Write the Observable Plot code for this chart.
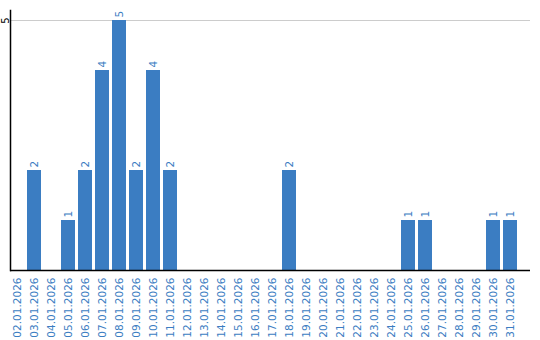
<!DOCTYPE html>
<html>
<head>
<meta charset="utf-8">
<script src="https://cdn.jsdelivr.net/npm/d3@7"></script>
<script src="https://cdn.jsdelivr.net/npm/@observablehq/plot@0.6"></script>
<style>
  body { margin: 0; background: #fff; }
  svg { display: block; }
</style>
</head>
<body>
<div id="chart"></div>
<script>
const dates = ["02.01.2026","03.01.2026","04.01.2026","05.01.2026","06.01.2026","07.01.2026","08.01.2026","09.01.2026","10.01.2026","11.01.2026","12.01.2026","13.01.2026","14.01.2026","15.01.2026","16.01.2026","17.01.2026","18.01.2026","19.01.2026","20.01.2026","21.01.2026","22.01.2026","23.01.2026","24.01.2026","25.01.2026","26.01.2026","27.01.2026","28.01.2026","29.01.2026","30.01.2026","31.01.2026"];
const counts = [0,2,0,1,2,4,5,2,4,2,0,0,0,0,0,0,2,0,0,0,0,0,0,1,1,0,0,0,1,1];
const yTicks = [5];

const data = dates.map((d, i) => ({date: d, count: counts[i]}));
const nonZero = data.filter(d => d.count > 0);
const blue = "#3b7dc2";
const font = "DejaVu Sans, Verdana, sans-serif";

const chart = Plot.plot({
  width: 540,
  height: 340,
  marginLeft: 10,
  marginRight: 10,
  marginTop: 10,
  marginBottom: 70,
  style: {fontFamily: font, fontSize: "10.5px", background: "#fff"},
  x: {domain: dates, range: [10, 517], paddingInner: 3/17, paddingOuter: 0, label: null},
  y: {domain: [0, 5.2], label: null},
  marks: [
    Plot.ruleY(yTicks, {stroke: "#cccccc", strokeWidth: 1}),
    Plot.barY(data, {x: "date", y: "count", fill: blue}),
    Plot.text(nonZero, {x: "date", y: "count", text: d => String(d.count), rotate: -90, textAnchor: "start", lineAnchor: "middle", dy: -3, fill: blue, fontSize: 10.5}),
    Plot.axisX({tickRotate: -90, tickSize: 0, tickPadding: 7, fill: blue, fontSize: 10.5, label: null}),
    Plot.axisY(yTicks, {tickRotate: -90, tickSize: 0, tickPadding: 2, tickFormat: d3.format("d"), fill: "black", fontSize: 10, label: null}),
    Plot.ruleY([0], {stroke: "black", strokeWidth: 1.5}),
    Plot.frame({anchor: "left", stroke: "black", strokeWidth: 1.5})
  ]
});
document.getElementById("chart").appendChild(chart);
</script>
</body>
</html>
